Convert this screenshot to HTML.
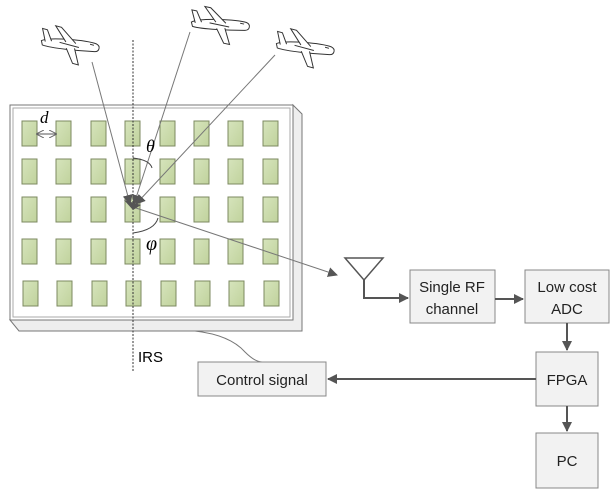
<!DOCTYPE html><html><head><style>body{margin:0;background:#fff}svg{display:block}</style></head><body>
<svg width="614" height="492" viewBox="0 0 614 492" xmlns="http://www.w3.org/2000/svg" font-family="Liberation Sans, sans-serif">
<defs>
<marker id="a" markerWidth="10" markerHeight="10" refX="9" refY="5" orient="auto" markerUnits="userSpaceOnUse"><path d="M0,0 L10,5 L0,10 z" fill="#555"/></marker>
<marker id="s" markerWidth="8" markerHeight="8" refX="7" refY="4" orient="auto" markerUnits="userSpaceOnUse"><path d="M0,0 L8,4 L0,8" fill="none" stroke="#666"/></marker>
<marker id="s2" markerWidth="8" markerHeight="8" refX="1" refY="4" orient="auto" markerUnits="userSpaceOnUse"><path d="M8,0 L0,4 L8,8" fill="none" stroke="#666"/></marker>
<linearGradient id="g" x1="0" y1="0" x2="1" y2="1"><stop offset="0" stop-color="#d6e4bc"/><stop offset="1" stop-color="#c0d29c"/></linearGradient>
<g id="p" fill="#fff" stroke="#333" stroke-width="1">
<path d="M-28,6 C-20,0 15,-6 26,-5 C31,-4 31,2 26,3 C12,6 -16,11 -26,10 z"/>
<path d="M-4,1 L-18,-12 L-12,-12 L6,0 M-2,7 L8,20 L14,20 L6,5"/>
<path d="M-24,6 L-30,-6 L-25,-6 L-18,4"/>
<path d="M20,-3 L24,-3 M-10,3 h20" fill="none"/>
</g>
<g id="r"><rect x="22" y="0" width="15" height="25"/><rect x="56" y="0" width="15" height="25"/><rect x="91" y="0" width="15" height="25"/><rect x="125" y="0" width="15" height="25"/><rect x="160" y="0" width="15" height="25"/><rect x="194" y="0" width="15" height="25"/><rect x="228" y="0" width="15" height="25"/><rect x="263" y="0" width="15" height="25"/></g>
</defs>
<use href="#p" transform="translate(70,42) rotate(15)"/>
<use href="#p" transform="translate(220,22) rotate(12)"/>
<use href="#p" transform="translate(305,45) rotate(15)"/>
<path d="M293,105 L302,114 L302,331 L19,331 L10,320 L293,320 z" fill="#eee" stroke="#777"/>
<rect x="10" y="105" width="283" height="215" fill="#fff" stroke="#777"/>
<rect x="13" y="108" width="277" height="209" fill="none" stroke="#aaa"/>
<g fill="url(#g)" stroke="#7c8a60" stroke-width="1">
<use href="#r" y="121"/><use href="#r" y="159"/><use href="#r" y="197"/><use href="#r" y="239"/><use href="#r" y="281" x="1"/>
</g>
<line x1="37" y1="134" x2="56" y2="134" stroke="#555" marker-end="url(#s)" marker-start="url(#s2)"/>
<text x="40" y="123" font-family="Liberation Serif, serif" font-style="italic" font-size="17">d</text>
<line x1="133" y1="40" x2="133" y2="372" stroke="#333" stroke-dasharray="2,1.5"/>
<g stroke="#777" fill="none">
<line x1="92" y1="62" x2="130" y2="204" marker-end="url(#a)"/>
<line x1="190" y1="32" x2="134" y2="204" marker-end="url(#a)"/>
<line x1="275" y1="55" x2="136" y2="204" marker-end="url(#a)"/>
<line x1="133" y1="207" x2="337" y2="275" marker-end="url(#a)"/>
<path d="M133,158 Q150,160 152,168" stroke="#444"/>
<path d="M133,233 Q155,230 158,218" stroke="#444"/>
<path d="M195,331 Q230,335 245,352 Q255,362 262,362"/>
</g>
<path d="M124,200 L141,205 L133,210 z" fill="#555"/>
<text x="146" y="152" font-family="Liberation Serif, serif" font-style="italic" font-size="18">θ</text>
<text x="146" y="250" font-family="Liberation Serif, serif" font-style="italic" font-size="20">φ</text>
<text x="138" y="362" font-size="15">IRS</text>
<path d="M345,258 L383,258 L364,280 z" fill="#fff" stroke="#555" stroke-width="1.5"/>
<path d="M364,280 V298 H408" fill="none" stroke="#555" stroke-width="2" marker-end="url(#a)"/>
<g fill="#f2f2f2" stroke="#888">
<rect x="410" y="270" width="85" height="53"/><rect x="525" y="270" width="84" height="53"/>
<rect x="536" y="352" width="62" height="54"/><rect x="536" y="433" width="62" height="55"/>
<rect x="198" y="362" width="128" height="34"/>
</g>
<g stroke="#555" stroke-width="2" fill="none">
<line x1="495" y1="299" x2="523" y2="299" marker-end="url(#a)"/>
<line x1="567" y1="323" x2="567" y2="350" marker-end="url(#a)"/>
<line x1="567" y1="406" x2="567" y2="431" marker-end="url(#a)"/>
<line x1="536" y1="379" x2="328" y2="379" marker-end="url(#a)"/>
</g>
<g font-size="15" fill="#222" text-anchor="middle">
<text x="452" y="292">Single RF</text><text x="452" y="314">channel</text>
<text x="567" y="292">Low cost</text><text x="567" y="314">ADC</text>
<text x="567" y="385">FPGA</text><text x="567" y="466">PC</text>
<text x="262" y="385">Control signal</text>
</g>
</svg></body></html>
